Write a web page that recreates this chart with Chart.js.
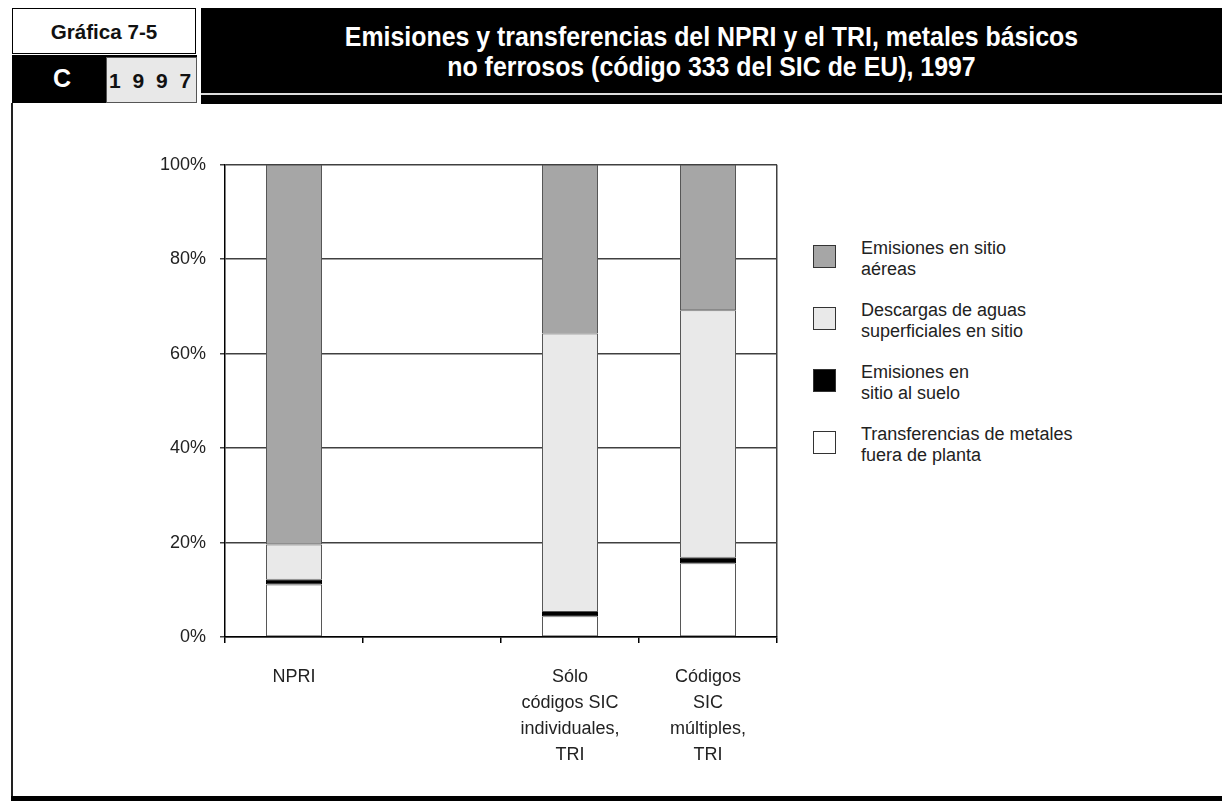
<!DOCTYPE html>
<html>
<head>
<meta charset="utf-8">
<script src="https://cdn.jsdelivr.net/npm/chart.js@4.4.0/dist/chart.umd.min.js"></script>
<style>
  body { margin: 0; width: 1222px; height: 801px; background: #fff; position: relative; overflow: hidden; font-family: "Liberation Sans", Arial, sans-serif; }
  .abs { position: absolute; }
  #boxNum { left: 12px; top: 8px; width: 182px; height: 44px; border: 1.5px solid #000; background: #fff; }
  #numText { left: 0; top: 0; width: 182px; text-align: center; font: bold 21px "Liberation Sans", Arial, sans-serif; line-height: 46px; color: #111; }
  #rowC { left: 12px; top: 55px; width: 185px; height: 48px; background: #000; }
  #letterC { left: 53px; top: 64px; color: #fff; font: bold 25px "Liberation Sans", Arial, sans-serif; }
  #year { left: 106px; top: 57px; width: 89px; height: 44px; background: #e8e8e8; border: 1px solid #555;
    font: bold 21px "Liberation Sans", Arial, sans-serif; line-height: 46px; text-align: center; letter-spacing: 3px; color: #111; }
  #band { left: 201px; top: 8px; width: 1021px; height: 96px; background: #000; }
  #bandLine { left: 201px; top: 93px; width: 1021px; height: 2px; background: #ddd; }
  #title { left: 201px; top: 22px; width: 1021px; text-align: center; color: #fff;
    font: bold 27px "Liberation Sans", Arial, sans-serif; line-height: 30px; white-space: nowrap; }
  #leftLine { left: 11px; top: 103px; width: 2px; height: 695px; background: #222; }
  #bottomLine { left: 11px; top: 796px; width: 1211px; height: 5px; background: #000; }
  #chartWrap { left: 140px; top: 140px; width: 650px; height: 650px; }
  .legItem { position: absolute; left: 813px; }
  .legBox { position: absolute; left: 0; top: 7px; width: 21px; height: 21px; border: 1.5px solid #333; }
  .legText { position: absolute; left: 48px; top: 0; white-space: nowrap; font-size: 18px; line-height: 21px; color: #222; }
</style>
</head>
<body>
<div class="abs" id="boxNum"><div class="abs" id="numText"><span id="numSpan">Gráfica 7-5</span></div></div>
<div class="abs" id="rowC"></div>
<div class="abs" id="letterC">C</div>
<div class="abs" id="year">1 9 9 7</div>
<div class="abs" id="band"></div>
<div class="abs" id="bandLine"></div>
<div class="abs" id="title"><span id="titleSpan">Emisiones y transferencias del NPRI y el TRI, metales básicos</span><br>no ferrosos (código 333 del SIC de EU), 1997</div>
<div class="abs" id="leftLine"></div>
<div class="abs" id="bottomLine"></div>
<div class="abs" id="chartWrap"><canvas id="graphCanvas" width="650" height="650"></canvas></div>
<div id="legend"></div>
<script>
// categorias (la segunda va vacia en la grafica original)
const categories = [
  ['NPRI'],
  [''],
  ['Sólo', 'códigos SIC', 'individuales,', 'TRI'],
  ['Códigos', 'SIC', 'múltiples,', 'TRI']
];

// porcentajes, de abajo hacia arriba
const transferencias = [11.1, null, 4.4, 15.6];
const suelo = [1.0, null, 0.9, 1.2];
const aguas = [7.5, null, 59.0, 52.4];
const aereas = [80.4, null, 35.7, 30.8];

const seriesLabels = [
  ['Transferencias de metales', 'fuera de planta'],
  ['Emisiones en', 'sitio al suelo'],
  ['Descargas de aguas', 'superficiales en sitio'],
  ['Emisiones en sitio', 'aéreas']
];
const seriesColors = ['#ffffff', '#000000', '#e9e9e9', '#a6a6a6'];
const seriesData = [transferencias, suelo, aguas, aereas];

const yMin = 0, yMax = 100, yStep = 20;

// letra angosta: se comprime el texto del titulo al ancho de la original
function squeeze(boxId, spanId, target) {
  const w = document.getElementById(spanId).offsetWidth;
  const el = document.getElementById(boxId);
  el.style.transform = `scaleX(${target / w})`;
  el.style.transformOrigin = 'center';
}
squeeze('title', 'titleSpan', 733);
squeeze('numText', 'numSpan', 107);

// leyenda en html, en el orden de la original (de arriba hacia abajo)
let html = '';
for (let i = 0; i < 4; i++) {
  const k = 3 - i;
  html += `<div class="legItem" style="top:${238 + i * 62}px">
    <div class="legBox" style="background:${seriesColors[k]}"></div>
    <div class="legText">${seriesLabels[k].join('<br>')}</div></div>`;
}
document.getElementById('legend').innerHTML = html;

const ctx = document.getElementById('graphCanvas');
const myChart = new Chart(ctx, {
  type: 'bar',
  data: {
    labels: categories,
    datasets: seriesData.map((d, i) => ({
      label: seriesLabels[i].join(' '),
      data: d,
      backgroundColor: seriesColors[i],
      borderColor: i == 1 ? '#000' : '#555',
      borderWidth: 1,
      borderSkipped: false,
      barPercentage: 0.406,
      categoryPercentage: 1
    }))
  },
  options: {
    responsive: false,
    animation: false,
    layout: { padding: { top: 23, right: 13, left: 0, bottom: 0 } },
    plugins: { legend: { display: false }, tooltip: { enabled: false } },
    scales: {
      x: {
        stacked: true,
        grid: {
          offset: true,
          color: c => c.index === undefined ? '#404040' : 'rgba(0,0,0,0)',
          lineWidth: 1.5,
          tickLength: 6,
          tickColor: '#000'
        },
        border: { color: '#000', width: 1.5 },
        ticks: {
          color: '#222',
          font: { family: '"Liberation Sans", Arial, sans-serif', size: 18, lineHeight: 1.45 },
          padding: 21,
          maxRotation: 0,
          autoSkip: false
        },
        afterFit: s => { s.height = 153; }
      },
      y: {
        stacked: true,
        min: yMin,
        max: yMax,
        grid: { color: '#404040', lineWidth: 1.5, tickLength: 5 },
        border: { color: '#000', width: 1.5 },
        ticks: {
          stepSize: yStep,
          color: '#222',
          padding: 14,
          font: { family: '"Liberation Sans", Arial, sans-serif', size: 18 },
          callback: v => v + '%'
        },
        afterFit: s => { s.width = 85; }
      }
    }
  }
});
</script>
</body>
</html>
